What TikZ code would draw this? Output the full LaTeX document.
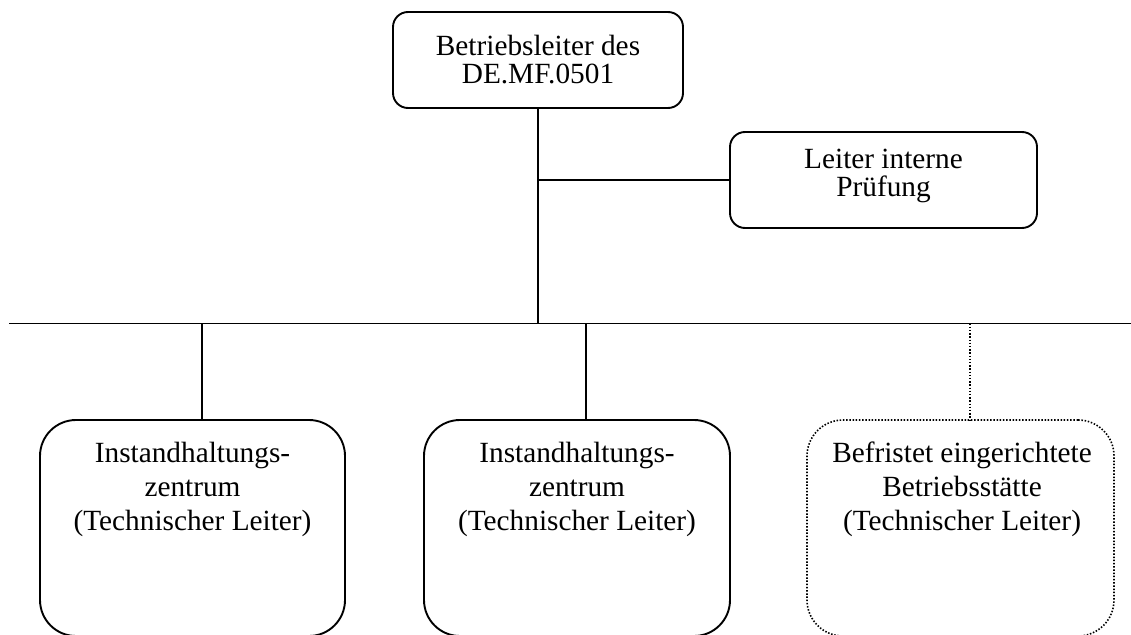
\documentclass[tikz,border=0pt]{standalone}
\usepackage{fontspec}
\setmainfont{Liberation Serif}
\begin{document}
\begin{tikzpicture}[x=1pt,y=-1pt,
  ln/.style={line width=1.9pt, draw=black},
  dotln/.style={line width=1.6pt, draw=black, dash pattern=on 1.5pt off 1.7pt},
  smallbox/.style={ln, rectangle, rounded corners=15pt, inner sep=0pt, outer sep=0pt, minimum height=96pt},
  bigbox/.style={ln, rectangle, rounded corners=36pt, inner sep=0pt, outer sep=0pt, minimum height=216pt},
  txtA/.style={inner sep=0pt, align=center, font=\fontsize{29.3pt}{28pt}\selectfont},
  txtB/.style={inner sep=0pt, align=center, font=\fontsize{29.3pt}{34pt}\selectfont}
]
\useasboundingbox (0,0) rectangle (1131,634);
\clip (0,0) rectangle (1131,634);

% boxes
\node[smallbox, minimum width=290pt] (top) at (538,60) {};
\node[smallbox, minimum width=307pt] (lei) at (883.5,180) {};
\node[bigbox, minimum width=305pt] (b1) at (192.5,528) {};
\node[bigbox, minimum width=306pt] (b2) at (577,528) {};
\node[bigbox, dotln, minimum width=307pt] (b3) at (960.5,528) {};

% texts
\node[txtA, anchor=north] (ttop) at ([yshift=-23pt]top.north) {Betriebsleiter des\\DE.MF.0501};
\node[txtA, anchor=north] (tlei) at ([yshift=-16.5pt]lei.north) {Leiter interne\\Prüfung};
\node[txtB, anchor=north] (t1) at ([yshift=-22pt]b1.north) {Instandhaltungs-\\zentrum\\(Technischer Leiter)};
\node[txtB, anchor=north] (t2) at ([yshift=-22pt]b2.north) {Instandhaltungs-\\zentrum\\(Technischer Leiter)};
\node[txtB, anchor=north] (t3) at ([xshift=1.5pt,yshift=-22pt]b3.north) {Befristet eingerichtete\\Betriebsstätte\\(Technischer Leiter)};

% bus
\coordinate (busL) at (9,323.5);
\coordinate (busR) at (1131,323.5);
\coordinate (j1) at (202,323.5);
\coordinate (j2) at (586,323.5);
\coordinate (j3) at (970,323.5);
\draw[ln] (busL) -- (busR);

% connectors
\draw[ln] (top.south) -- (top.south |- busL);
\coordinate (br) at (top.south |- lei.west);
\draw[ln] (br) -- (lei.west);
\draw[ln] (j1) -- (j1 |- b1.north);
\draw[ln] (j2) -- (j2 |- b2.north);
\draw[dotln] (j3) -- (j3 |- b3.north);
\end{tikzpicture}
\end{document}
